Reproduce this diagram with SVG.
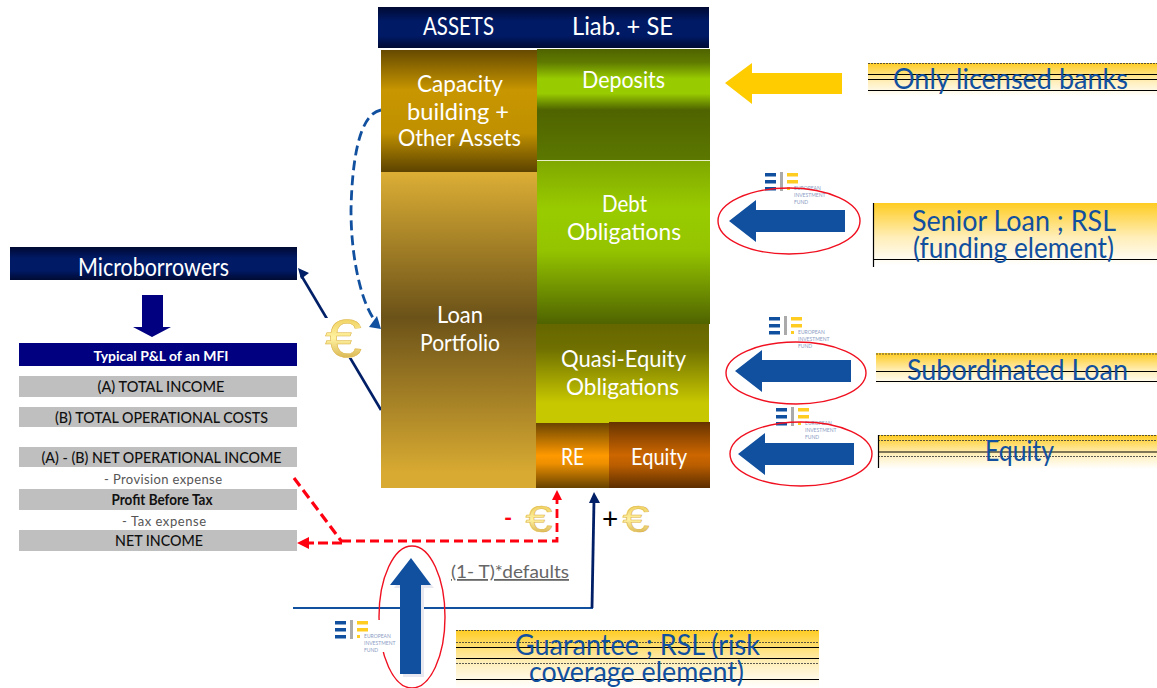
<svg xmlns="http://www.w3.org/2000/svg" width="1157" height="688" viewBox="0 0 1157 688">
<style>
text{font-family:Lato,"Liberation Sans",sans-serif;text-anchor:middle}
.w{fill:#fff;font-size:24px}
.h{fill:#fff;font-size:25px}
.b{fill:#11509f;font-size:28px}
.k{fill:#111;font-size:15px;font-weight:500}
.g{fill:#555;font-size:13px}
.bar{fill:#bfbfbf}
.l{stroke:#000;stroke-width:1.2}
.d{stroke:#333;stroke-width:.8;stroke-dasharray:2 1}
.blue{fill:#11509f}
.oval{fill:none;stroke:#f01020;stroke-width:1.4}
.tiny{font-size:5px;fill:#8c9cc4;text-anchor:start}
.euro{font-family:"Liberation Sans",sans-serif;fill:url(#gold);stroke:#dcb448;stroke-width:.5}
</style>
<defs>
<linearGradient id="navy" x1="0" y1="0" x2="0" y2="1"><stop offset="0" stop-color="#000a33"/><stop offset=".35" stop-color="#001a66"/><stop offset=".7" stop-color="#001a66"/><stop offset="1" stop-color="#000a33"/></linearGradient>
<linearGradient id="cap" x1="0" y1="0" x2="0" y2="1"><stop offset="0" stop-color="#664a00"/><stop offset=".33" stop-color="#c89600"/><stop offset=".68" stop-color="#c09000"/><stop offset="1" stop-color="#5c4300"/></linearGradient>
<linearGradient id="loan" x1="0" y1="0" x2="0" y2="1"><stop offset="0" stop-color="#dcae35"/><stop offset=".46" stop-color="#6b5218"/><stop offset=".95" stop-color="#d8aa32"/><stop offset="1" stop-color="#d8aa32"/></linearGradient>
<linearGradient id="dep" x1="0" y1="0" x2="0" y2="1"><stop offset="0" stop-color="#4f6300"/><stop offset=".12" stop-color="#5f7a00"/><stop offset=".27" stop-color="#99cc00"/><stop offset=".4" stop-color="#99cc00"/><stop offset=".55" stop-color="#4f6300"/><stop offset="1" stop-color="#5c7800"/></linearGradient>
<linearGradient id="debt" x1="0" y1="0" x2="0" y2="1"><stop offset="0" stop-color="#80a800"/><stop offset=".3" stop-color="#99cc00"/><stop offset=".55" stop-color="#94c400"/><stop offset="1" stop-color="#4f6300"/></linearGradient>
<linearGradient id="quasi" x1="0" y1="0" x2="0" y2="1"><stop offset="0" stop-color="#666600"/><stop offset=".25" stop-color="#6f7000"/><stop offset=".8" stop-color="#c8c800"/><stop offset="1" stop-color="#c8c800"/></linearGradient>
<linearGradient id="reg" x1="0" y1="0" x2="0" y2="1"><stop offset="0" stop-color="#6b4500"/><stop offset=".5" stop-color="#ff9900"/><stop offset=".62" stop-color="#ee9000"/><stop offset="1" stop-color="#664200"/></linearGradient>
<linearGradient id="eq" x1="0" y1="0" x2="0" y2="1"><stop offset="0" stop-color="#663300"/><stop offset=".5" stop-color="#cc6600"/><stop offset=".65" stop-color="#bb5e00"/><stop offset="1" stop-color="#5c2e00"/></linearGradient>
<linearGradient id="yel" x1="0" y1="0" x2="0" y2="1"><stop offset="0" stop-color="#ffcc22"/><stop offset=".55" stop-color="#ffeeb8"/><stop offset="1" stop-color="#fff"/></linearGradient>
<linearGradient id="gold" x1="0" y1="0" x2="0" y2="1"><stop offset="0" stop-color="#e8c040"/><stop offset=".5" stop-color="#fff2a0"/><stop offset="1" stop-color="#c89a30"/></linearGradient>
<g id="logo">
<rect x="0" y="1" width="11" height="3.500" fill="#11509f"/><rect x="0" y="8" width="11" height="3.500" fill="#11509f"/><rect x="0" y="15" width="11" height="3.500" fill="#11509f"/>
<rect x="15" y="0" width="3" height="19" fill="#aaa"/>
<rect x="22" y="1" width="11" height="3.500" fill="#ffcc22"/><rect x="22" y="8" width="11" height="3.500" fill="#ffcc22"/><rect x="22" y="15" width="3" height="3" fill="#ffcc22"/>
<text class="tiny" x="29" y="18">EUROPEAN</text><text class="tiny" x="29" y="25">INVESTMENT</text><text class="tiny" x="29" y="32">FUND</text>
</g>
<path id="larrow" class="blue" d="M0 0L27-21V-11H116V11H27V21Z"/>
</defs>
<rect width="1157" height="688" fill="#fff"/>

<g id="connectors" fill="none">
<line x1="381" y1="410" x2="301" y2="275" stroke="#001f66" stroke-width="2.6"/>
<path d="M298 268L309 273L301 279Z" fill="#001f66"/>
<path d="M381 110C358 114 352 165 351 210C351 260 362 305 376 322" stroke="#11509f" stroke-width="2.8" stroke-dasharray="10 5"/>
<path d="M381 329L369 327L377 316Z" fill="#11509f"/>
<path d="M294 478L342 542" stroke="#f01" stroke-width="3.200" stroke-dasharray="10 5"/>
<path d="M342 543H308" stroke="#f01" stroke-width="3.200" stroke-dasharray="10 4"/>
<path d="M297 543L309 537V549Z" fill="#f01"/>
<path d="M342 541H557V500" stroke="#f01" stroke-width="2.800" stroke-dasharray="9 5"/>
<path d="M557 490L552 500H562Z" fill="#f01"/>
<line x1="293" y1="608" x2="593" y2="608" stroke="#11509f" stroke-width="2"/>
<path d="M592 608L594 500" stroke="#001f66" stroke-width="2.800"/>
<path d="M594 492L589 503H600Z" fill="#001f66"/>
</g>

<g id="balance-header"><rect x="378" y="7" width="331" height="41" fill="url(#navy)"/>
<text class="h" x="458.500" y="35" textLength="71" lengthAdjust="spacingAndGlyphs">ASSETS</text>
<text class="h" x="622.500" y="35" textLength="101" lengthAdjust="spacingAndGlyphs">Liab. + SE</text></g>
<g id="capacity"><rect x="381" y="50" width="157" height="122" fill="url(#cap)"/>
<text class="w" x="460" y="92" textLength="86" lengthAdjust="spacingAndGlyphs">Capacity</text>
<text class="w" x="458" y="120" textLength="102" lengthAdjust="spacingAndGlyphs">building +</text>
<text class="w" x="459.500" y="146" textLength="123" lengthAdjust="spacingAndGlyphs">Other Assets</text></g>
<g id="loan-portfolio"><rect x="381" y="172" width="156" height="316" fill="url(#loan)"/>
<text class="w" x="460" y="323" textLength="46" lengthAdjust="spacingAndGlyphs">Loan</text>
<text class="w" x="460" y="351" textLength="80" lengthAdjust="spacingAndGlyphs">Portfolio</text></g>
<g id="deposits"><rect x="537" y="49" width="173" height="111" fill="url(#dep)"/>
<text class="w" x="623.500" y="88" textLength="83" lengthAdjust="spacingAndGlyphs">Deposits</text></g>
<g id="debt-obligations"><rect x="537" y="161" width="173" height="163" fill="url(#debt)"/>
<text class="w" x="624.500" y="212" textLength="45" lengthAdjust="spacingAndGlyphs">Debt</text>
<text class="w" x="624" y="240" textLength="114" lengthAdjust="spacingAndGlyphs">Obligations</text></g>
<g id="quasi-equity"><rect x="536" y="324" width="173" height="99" fill="url(#quasi)"/>
<text class="w" x="623.500" y="367" textLength="125" lengthAdjust="spacingAndGlyphs">Quasi-Equity</text>
<text class="w" x="622.500" y="395" textLength="113" lengthAdjust="spacingAndGlyphs">Obligations</text></g>
<g id="re"><rect x="536" y="423" width="73" height="65" fill="url(#reg)"/>
<text class="w" x="572.500" y="465" textLength="23" lengthAdjust="spacingAndGlyphs">RE</text></g>
<g id="equity"><rect x="609" y="422" width="101" height="66" fill="url(#eq)"/>
<text class="w" x="659" y="465" textLength="56" lengthAdjust="spacingAndGlyphs">Equity</text></g>
<line id="dep-sep" x1="537" y1="160.500" x2="710" y2="160.500" stroke="#e8f0c8" stroke-width="1"/>

<g id="microborrowers"><rect x="10" y="247" width="287" height="33" fill="url(#navy)"/>
<text class="h" x="153.500" y="276" textLength="151" lengthAdjust="spacingAndGlyphs">Microborrowers</text></g>
<g id="down-arrow"><path d="M142 295H163V327H171L152 337L133 327H142Z" fill="#000080"/></g>
<g id="pl-title"><rect x="19" y="343" width="278" height="23" fill="#000080"/>
<text x="161" y="361" fill="#fff" font-size="14" font-weight="700" textLength="135" lengthAdjust="spacingAndGlyphs">Typical P&amp;L of an MFI</text></g>
<g id="total-income"><rect class="bar" x="19" y="376" width="278" height="21"/><text class="k" x="161" y="392" textLength="127" lengthAdjust="spacingAndGlyphs">(A) TOTAL INCOME</text></g>
<g id="total-costs"><rect class="bar" x="19" y="407" width="278" height="20"/><text class="k" x="161.500" y="423" textLength="213" lengthAdjust="spacingAndGlyphs">(B) TOTAL OPERATIONAL COSTS</text></g>
<g id="net-operational"><rect class="bar" x="19" y="447" width="278" height="20"/><text class="k" x="161.500" y="463" textLength="240" lengthAdjust="spacingAndGlyphs">(A) - (B) NET OPERATIONAL INCOME</text></g>
<text class="g" x="163" y="484" textLength="118">- Provision expense</text>
<g id="profit-before-tax"><rect class="bar" x="19" y="489" width="278" height="21"/><text class="k" x="162" y="505" style="font-weight:700" textLength="101" lengthAdjust="spacingAndGlyphs">Profit Before Tax</text></g>
<text class="g" x="164" y="526" textLength="84">- Tax expense</text>
<g id="net-income"><rect class="bar" x="19" y="530" width="278" height="21"/><text class="k" x="159" y="546" textLength="88" lengthAdjust="spacingAndGlyphs">NET INCOME</text></g>

<g id="euro-loan"><rect x="325" y="318" width="37" height="40" fill="#fff"/><text class="euro" x="343.500" y="357" font-size="54" textLength="37" lengthAdjust="spacingAndGlyphs">€</text></g>
<g id="euro-minus"><text x="508" y="526" fill="#f01" font-size="22" font-weight="700">-</text><text class="euro" x="539" y="532" font-size="36" textLength="27" lengthAdjust="spacingAndGlyphs">€</text></g>
<g id="euro-plus"><text x="610" y="529" fill="#000" font-size="28">+</text><text class="euro" x="636" y="532" font-size="36" textLength="27" lengthAdjust="spacingAndGlyphs">€</text></g>
<text id="defaults" x="510" y="578" fill="#666" font-size="18" style="text-decoration:underline;text-decoration-thickness:2px" textLength="118" lengthAdjust="spacingAndGlyphs">(1- T)*defaults</text>

<g id="yellow-arrow"><path d="M725 83L752 63V73H842V94H752V104Z" fill="#ffcc00"/></g>
<g id="licensed"><rect x="868" y="63" width="289" height="33" fill="url(#yel)"/>
<line class="d" x1="868" y1="63.500" x2="1157" y2="63.500"/><line class="l" x1="868" y1="74.500" x2="1157" y2="74.500"/><line class="l" x1="868" y1="79.500" x2="1157" y2="79.500"/><line class="l" x1="868" y1="90.500" x2="1157" y2="90.500"/>
<text class="b" x="1010.500" y="89" textLength="235" lengthAdjust="spacingAndGlyphs">Only licensed banks</text></g>

<g id="senior-arrow"><use href="#logo" x="765" y="172"/><use href="#larrow" x="729" y="221"/><ellipse class="oval" cx="789" cy="221" rx="71" ry="33"/></g>
<g id="senior"><rect x="873" y="203" width="284" height="62" fill="url(#yel)"/>
<line class="l" x1="873.500" y1="203" x2="873.500" y2="267"/><line class="l" x1="873" y1="259.500" x2="1157" y2="259.500"/>
<text class="b" x="1014" y="231" textLength="204" lengthAdjust="spacingAndGlyphs">Senior Loan ; RSL</text>
<text class="b" x="1013.500" y="258" textLength="201" lengthAdjust="spacingAndGlyphs">(funding element)</text></g>

<g id="sub-arrow"><use href="#logo" x="769" y="316"/><use href="#larrow" x="735" y="371"/><ellipse class="oval" cx="796" cy="373" rx="70" ry="31"/></g>
<g id="subordinated"><rect x="876" y="353" width="281" height="32" fill="url(#yel)"/>
<line class="d" x1="876" y1="354" x2="1157" y2="354"/><line class="l" x1="876" y1="371.500" x2="1157" y2="371.500"/><line class="l" x1="876" y1="381.500" x2="1157" y2="381.500"/>
<text class="b" x="1017.500" y="380" textLength="221" lengthAdjust="spacingAndGlyphs">Subordinated Loan</text></g>

<g id="equity-arrow"><use href="#logo" x="776" y="407"/><use href="#larrow" x="738" y="454"/><ellipse class="oval" cx="801" cy="454" rx="71" ry="32"/></g>
<g id="equity-label"><rect x="878" y="435" width="279" height="34" fill="url(#yel)"/>
<line class="d" x1="878" y1="435.500" x2="1157" y2="435.500"/><line class="d" x1="878" y1="440.500" x2="1157" y2="440.500"/><line class="l" x1="878" y1="452" x2="1157" y2="452"/><line class="d" x1="878" y1="456.500" x2="1157" y2="456.500"/><line class="l" x1="878.500" y1="435" x2="878.500" y2="468"/>
<text class="b" x="1019.500" y="461" textLength="69" lengthAdjust="spacingAndGlyphs">Equity</text></g>

<g id="guarantee-arrow"><path d="M413 561L434 588H424V677H403V588H394Z" fill="#e8e8f0"/><path class="blue" d="M411 558L431 585H421V674H400V585H390Z"/><ellipse class="oval" cx="412" cy="617" rx="33" ry="71"/><rect x="335" y="620" width="60" height="32" fill="#fff"/><use href="#logo" x="335" y="620"/></g>
<g id="guarantee"><rect x="456" y="630" width="363" height="58" fill="url(#yel)"/>
<line class="d" x1="456" y1="630.500" x2="819" y2="630.500"/><line class="d" x1="456" y1="642.500" x2="819" y2="642.500"/><line class="l" x1="456" y1="647.500" x2="819" y2="647.500"/><line class="l" x1="456" y1="658.500" x2="819" y2="658.500"/><line class="d" x1="456" y1="663.500" x2="819" y2="663.500"/><line class="l" x1="456" y1="679.500" x2="819" y2="679.500"/>
<text class="b" x="637.500" y="655" textLength="245" lengthAdjust="spacingAndGlyphs">Guarantee ; RSL (risk</text>
<text class="b" x="636.500" y="682" textLength="215" lengthAdjust="spacingAndGlyphs">coverage element)</text></g>
</svg>
